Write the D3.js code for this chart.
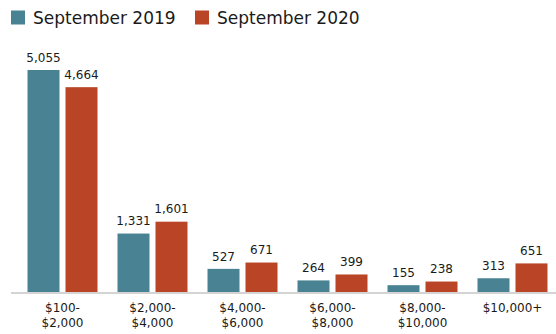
<!DOCTYPE html>
<html>
<head>
<meta charset="utf-8">
<script src="https://cdn.jsdelivr.net/npm/d3@7"></script>
<style>
  html, body { margin: 0; padding: 0; background: #fff; }
  svg text { font-family: "DejaVu Sans", "Liberation Sans", sans-serif; fill: #1a1a1a; }
</style>
</head>
<body>
<svg id="chart" width="556" height="334"></svg>
<script>
// Income bands and counts for each September
const categories = ["$100-\n$2,000", "$2,000-\n$4,000", "$4,000-\n$6,000", "$6,000-\n$8,000", "$8,000-\n$10,000", "$10,000+"];
const seriesNames = ["September 2019", "September 2020"];
const sep2019 = [5055, 1331, 527, 264, 155, 313];
const sep2020 = [4664, 1601, 671, 399, 238, 651];
const colors = ["#498393", "#b94526"];

const svg = d3.select("#chart");
const W = 556, H = 334;
const plotTop = 70, baseline = 292;
const font = '"DejaVu Sans", "Liberation Sans", sans-serif';

const x0 = d3.scaleBand().domain(categories).range([17.5, 557.5]);
const groupW = 70;
const x1 = d3.scaleBand().domain(seriesNames).range([0, groupW]).paddingInner(6 / 38);

const y = d3.scaleLinear().domain([0, 5055]).range([baseline, plotTop]);

const rows = categories.map((c, i) => ({ cat: c, vals: [sep2019[i], sep2020[i]] }));

const groups = svg.selectAll("g.grp").data(rows).join("g")
  .attr("class", "grp")
  .attr("transform", d => `translate(${x0(d.cat) + x0.bandwidth() / 2 - groupW / 2},0)`);

groups.selectAll("rect").data(d => d.vals.map((v, j) => ({ v, s: seriesNames[j], j })))
  .join("rect")
  .attr("x", d => x1(d.s))
  .attr("width", x1.bandwidth())
  .attr("y", d => y(d.v))
  .attr("height", d => baseline - y(d.v))
  .attr("fill", d => colors[d.j]);

groups.selectAll("text.val").data(d => d.vals.map((v, j) => ({ v, s: seriesNames[j] })))
  .join("text")
  .attr("class", "val")
  .attr("x", d => x1(d.s) + x1.bandwidth() / 2)
  .attr("y", d => y(d.v) - 8.3)
  .attr("text-anchor", "middle")
  .attr("font-size", 12)
  .text(d => d3.format(",")(d.v));

// baseline axis
svg.append("line")
  .attr("x1", 11).attr("x2", W)
  .attr("y1", baseline + 1).attr("y2", baseline + 1)
  .attr("stroke", "#d4d4d4").attr("stroke-width", 2);

// category labels (two lines)
const xAxis = d3.axisBottom(x0).tickSize(0).tickPadding(0);
const ax = svg.append("g").attr("transform", `translate(0,${baseline})`).call(xAxis);
ax.select(".domain").remove();
ax.selectAll(".tick text").each(function(d) {
  const t = d3.select(this);
  const lines = d.split("\n");
  t.text(null).attr("font-size", 12).attr("y", 0).attr("dy", null)
    .attr("fill", "#1a1a1a")
    .style("font-family", font);
  lines.forEach((ln, k) => {
    t.append("tspan").attr("x", 0).attr("y", 20.3 + k * 14.4).text(ln);
  });
});

// legend
const legX = [11, 195];
const leg = svg.selectAll("g.leg").data(seriesNames).join("g")
  .attr("class", "leg")
  .attr("transform", (d, i) => `translate(${legX[i]},10.5)`);
leg.append("rect").attr("width", 14).attr("height", 14).attr("fill", (d, i) => colors[i]);
leg.append("text").attr("x", 22).attr("y", 13.5).attr("font-size", 17).text(d => d);
</script>
</body>
</html>
